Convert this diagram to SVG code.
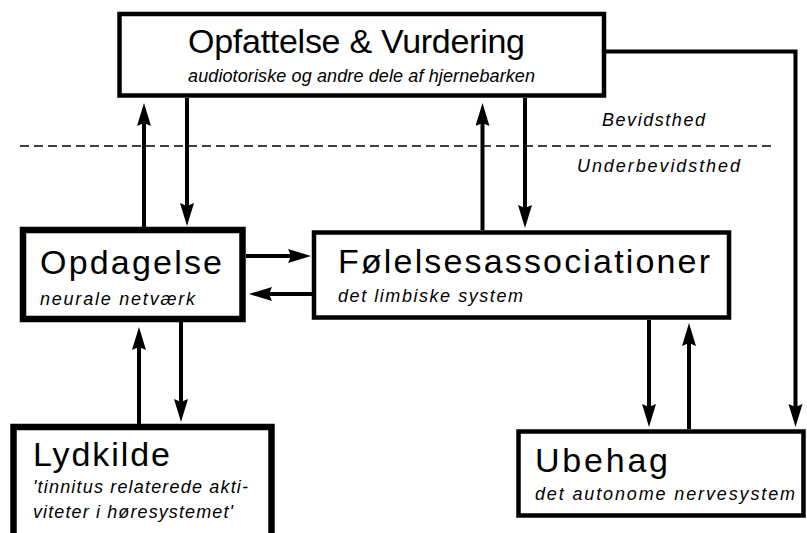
<svg xmlns="http://www.w3.org/2000/svg" width="807" height="533" viewBox="0 0 807 533">
<style>
.box{fill:#fff;stroke:#000;stroke-width:4.5}
.thick{stroke-width:6.5}
.t{font-family:"Liberation Sans",Arial,sans-serif;font-size:34px;fill:#000}
.s{font-family:"Liberation Sans",Arial,sans-serif;font-size:18px;font-style:italic;fill:#000}
.c{fill:none;stroke:#000;stroke-width:4}
.dash{fill:none;stroke:#000;stroke-width:1.3;stroke-dasharray:9 5}
</style>
<defs>
<marker id="ah" markerUnits="userSpaceOnUse" markerWidth="24" markerHeight="16" viewBox="0 0 24 16" refX="9" refY="7" orient="auto">
<path d="M0,0 L23,7 L0,14 L3,7 z" fill="#000"/>
</marker>
</defs>
<rect width="807" height="533" fill="#fff"/>
<line class="dash" x1="20" y1="146" x2="775" y2="146"/>
<text class="s" x="602" y="126" textLength="103" lengthAdjust="spacing">Bevidsthed</text>
<text class="s" x="577" y="172" textLength="163" lengthAdjust="spacing">Underbevidsthed</text>
<g id="connectors">
<path class="c" d="M144,227 V117" marker-end="url(#ah)"/>
<path class="c" d="M187,98 V212" marker-end="url(#ah)"/>
<path class="c" d="M482.5,230 V117" marker-end="url(#ah)"/>
<path class="c" d="M525,98 V214" marker-end="url(#ah)"/>
<path class="c" d="M246,256 H297" marker-end="url(#ah)"/>
<path class="c" d="M312,294 H263" marker-end="url(#ah)"/>
<path class="c" d="M139,424 V341" marker-end="url(#ah)"/>
<path class="c" d="M181,322 V408" marker-end="url(#ah)"/>
<path class="c" d="M649,320 V413" marker-end="url(#ah)"/>
<path class="c" d="M689,429 V337" marker-end="url(#ah)"/>
<path class="c" d="M606,51.5 H795.5 V413" marker-end="url(#ah)"/>
</g>
<g id="opfattelse">
<rect class="box" x="119.5" y="14" width="484.5" height="81.5"/>
<text class="t" x="188" y="53" font-size="33" textLength="337" lengthAdjust="spacing">Opfattelse &amp; Vurdering</text>
<text class="s" x="188" y="82" font-size="17" textLength="347" lengthAdjust="spacing">audiotoriske og andre dele af hjernebarken</text>
</g>
<g id="opdagelse">
<rect class="box thick" x="23" y="230" width="219.5" height="89"/>
<text class="t" x="40" y="274" textLength="182" lengthAdjust="spacing">Opdagelse</text>
<text class="s" x="40" y="305" textLength="155" lengthAdjust="spacing">neurale netværk</text>
</g>
<g id="folelses">
<rect class="box" x="314" y="232.5" width="415" height="85"/>
<text class="t" x="338" y="273" font-size="36" textLength="372" lengthAdjust="spacing">Følelsesassociationer</text>
<text class="s" x="338" y="302" textLength="185" lengthAdjust="spacing">det limbiske system</text>
</g>
<g id="lydkilde">
<rect class="box thick" x="13.5" y="427" width="258" height="130"/>
<text class="t" x="33" y="466" textLength="137" lengthAdjust="spacing">Lydkilde</text>
<text class="s" x="33" y="493" textLength="215" lengthAdjust="spacing">'tinnitus relaterede akti-</text>
<text class="s" x="33" y="518" textLength="200" lengthAdjust="spacing">viteter i høresystemet'</text>
</g>
<g id="ubehag">
<rect class="box" x="518.5" y="431.5" width="285" height="84"/>
<text class="t" x="535" y="472" textLength="133" lengthAdjust="spacing">Ubehag</text>
<text class="s" x="535" y="500" textLength="260" lengthAdjust="spacing">det autonome nervesystem</text>
</g>
</svg>
